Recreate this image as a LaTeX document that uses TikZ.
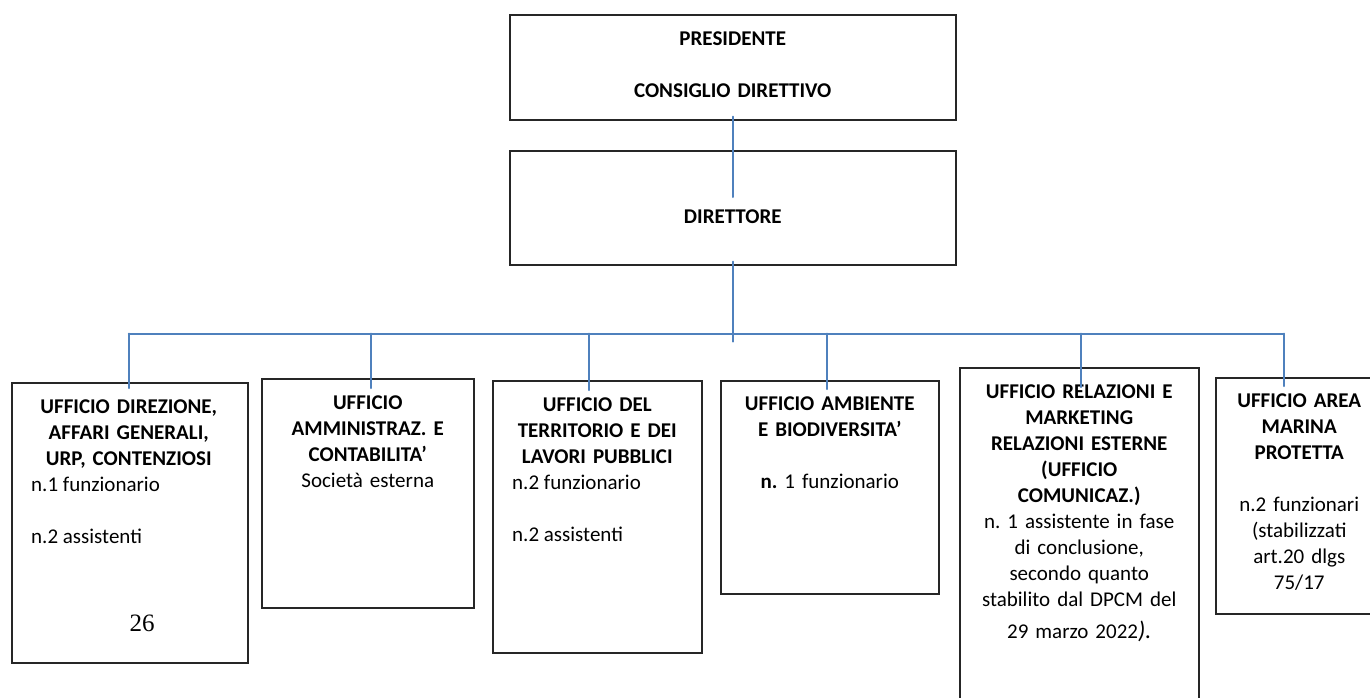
\documentclass[tikz,border=0pt]{standalone}
\usepackage{fontspec}
\setmainfont{Carlito}
\newfontfamily\pagefont{Liberation Serif}
\usetikzlibrary{calc}
\frenchspacing
\definecolor{wireblue}{RGB}{79,129,189}
\newcommand\boxstrut{\rule{0pt}{17pt}}
\tikzset{
  office/.style={draw=black!85,line width=1.5pt,inner sep=0pt,anchor=north west},
  wire/.style={draw=wireblue,line width=2pt},
  headtxt/.style={inner sep=0pt,anchor=north,align=center,font=\fontsize{21}{26}\selectfont\bfseries},
  bodytxt/.style={inner sep=0pt,anchor=north west,align=left,font=\fontsize{21}{26}\selectfont},
}

\begin{document}
\begin{tikzpicture}[x=1pt,y=-1pt,line cap=round]
  % org chart: president and director on top, six offices hung from one common line
  \useasboundingbox (0,0) rectangle (1370,697);
  \clip (0,0) rectangle (1370,697);
  \node[office,minimum width=446pt,minimum height=105pt] (pres) at (509,14) {};
  \node[office,minimum width=446pt,minimum height=114pt] (dir) at (509,150) {};
  \node[office,minimum width=236pt,minimum height=280pt] (uff1) at (11,382) {};
  \node[office,minimum width=212pt,minimum height=229pt] (uff2) at (261,378) {};
  \node[office,minimum width=209pt,minimum height=272pt] (uff3) at (492,380) {};
  \node[office,minimum width=218pt,minimum height=213pt] (uff4) at (720,380) {};
  \node[office,minimum width=239pt,minimum height=350pt] (uff5) at (959,367) {};
  \node[office,minimum width=167pt,minimum height=236pt] (uff6) at (1215,377) {};

  \node[headtxt,text width=440pt] (presname) at ($(pres.north)+(0,14)$) {\boxstrut PRESIDENTE\\[26pt]CONSIGLIO DIRETTIVO};
  \node[headtxt,text width=440pt] (dirname) at ($(dir.north)+(0,56)$) {\boxstrut DIRETTORE};

  \node[headtxt,text width=234pt] (head1) at ($(uff1.north)+(-1,14)$) {\boxstrut UFFICIO DIREZIONE,\\AFFARI GENERALI,\\URP, CONTENZIOSI};
  \node[bodytxt] (body1) at ($(uff1.north west)+(20,92)$) {\boxstrut n.1 funzionario\\[26pt]n.2 assistenti};
  \node[anchor=base,inner sep=0pt,font=\pagefont\fontsize{25}{30}\selectfont] (pagenum) at (142,631) {26};

  \node[headtxt,text width=210pt] (head2) at ($(uff2.north)+(0,14)$) {\boxstrut UFFICIO\\AMMINISTRAZ. E\\CONTABILITA’\\\mdseries Società esterna};

  \node[headtxt,text width=207pt] (head3) at ($(uff3.north)+(0,14)$) {\boxstrut UFFICIO DEL\\TERRITORIO E DEI\\LAVORI PUBBLICI};
  \node[bodytxt] (body3) at ($(uff3.north west)+(20,92)$) {\boxstrut n.2 funzionario\\[26pt]n.2 assistenti};

  \node[headtxt,text width=216pt] (head4) at ($(uff4.north)+(0,13)$) {\boxstrut UFFICIO AMBIENTE\\E BIODIVERSITA'\\[26pt]n.\mdseries{} 1 funzionario};

  \node[headtxt,text width=237pt] (head5) at ($(uff5.north)+(0,14)$) {\boxstrut UFFICIO RELAZIONI E\\MARKETING\\RELAZIONI ESTERNE\\(UFFICIO\\COMUNICAZ.)\\\mdseries n. 1 assistente in fase\\di conclusione,\\secondo quanto\\stabilito dal DPCM del\\[6pt]29 marzo 2022{\itshape\fontsize{24}{26}\selectfont).}};

  \node[headtxt,text width=165pt] (head6) at ($(uff6.north)+(0,13)$) {\boxstrut UFFICIO AREA\\MARINA\\PROTETTA\\[26pt]\mdseries n.2 funzionari\\(stabilizzati\\art.20 dlgs\\75/17};

  \draw[wire] ($(pres.south)+(0,-4)$) -- ($(dir.north)+(0,47)$);
  \coordinate (bus) at ($(dir.south)+(0,68)$);
  \draw[wire] ($(dir.south)+(0,-4)$) -- ($(bus)+(0,8)$);
  \foreach \n/\dx/\dy in {1/-1/6,2/3/10,3/-8/10,4/-3/9,5/1.5/20,6/-15.5/9}{
    \coordinate (t\n) at ($(uff\n.north)+(\dx,\dy)$);
    \draw[wire] (t\n |- bus) -- (t\n);
  }
  \draw[wire] (t1 |- bus) -- (t6 |- bus);
\end{tikzpicture}
\end{document}
